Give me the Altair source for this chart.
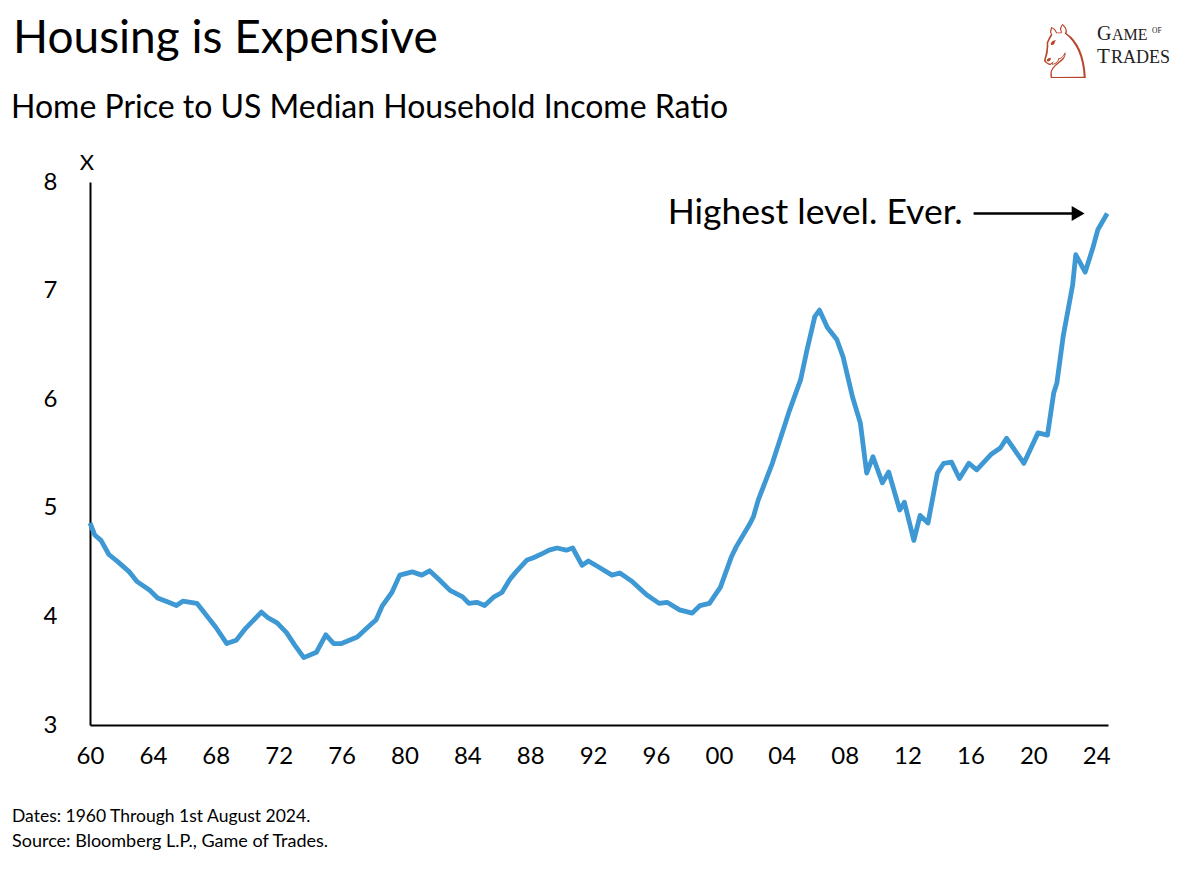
import altair as alt
import pandas as pd

years = [1960.0, 1960.3, 1960.7, 1961.2, 1961.8, 1962.5, 1963.0, 1963.8, 1964.3, 1965.0,
         1965.5, 1965.9, 1966.8, 1967.3, 1968.0, 1968.7, 1969.3, 1969.9, 1970.9, 1971.3,
         1971.9, 1972.5, 1973.0, 1973.6, 1974.4, 1975.0, 1975.5, 1976.0, 1977.0, 1977.6,
         1978.2, 1978.6, 1979.2, 1979.7, 1980.5, 1981.1, 1981.6, 1982.2, 1982.9, 1983.7,
         1984.1, 1984.6, 1985.1, 1985.7, 1986.2, 1986.7, 1987.1, 1987.8, 1988.2, 1988.8,
         1989.2, 1989.7, 1990.3, 1990.7, 1991.3, 1991.7, 1992.4, 1993.2, 1993.7, 1994.5,
         1995.4, 1996.2, 1996.7, 1997.5, 1998.3, 1998.8, 1999.4, 2000.1, 2000.8, 2001.1,
         2002.0, 2002.2, 2002.5, 2003.4, 2004.5, 2005.2, 2005.6, 2006.1, 2006.4, 2006.9,
         2007.5, 2007.9, 2008.5, 2009.0, 2009.4, 2009.8, 2010.4, 2010.8, 2011.5, 2011.8,
         2012.4, 2012.8, 2013.3, 2013.9, 2014.3, 2014.8, 2015.3, 2015.9, 2016.4, 2017.3,
         2017.9, 2018.3, 2019.4, 2020.3, 2020.9, 2021.3, 2021.5, 2021.9, 2022.5, 2022.7,
         2023.3, 2023.8, 2024.1, 2024.7]
ratios = [4.86, 4.75, 4.70, 4.57, 4.50, 4.41, 4.32, 4.24, 4.17, 4.13,
          4.10, 4.14, 4.12, 4.03, 3.90, 3.75, 3.78, 3.89, 4.04, 3.99,
          3.94, 3.85, 3.74, 3.62, 3.67, 3.83, 3.75, 3.75, 3.81, 3.89,
          3.97, 4.10, 4.22, 4.38, 4.41, 4.38, 4.42, 4.34, 4.24, 4.18,
          4.12, 4.13, 4.10, 4.18, 4.22, 4.34, 4.41, 4.52, 4.54, 4.58,
          4.61, 4.63, 4.61, 4.63, 4.47, 4.51, 4.45, 4.38, 4.40, 4.32,
          4.20, 4.12, 4.13, 4.06, 4.03, 4.10, 4.12, 4.27, 4.55, 4.64,
          4.86, 4.92, 5.07, 5.41, 5.90, 6.18, 6.45, 6.76, 6.82, 6.66,
          6.55, 6.39, 6.02, 5.78, 5.32, 5.47, 5.23, 5.33, 4.98, 5.05,
          4.70, 4.93, 4.86, 5.32, 5.41, 5.42, 5.27, 5.41, 5.35, 5.49,
          5.55, 5.64, 5.41, 5.69, 5.67, 6.06, 6.15, 6.58, 7.05, 7.33,
          7.17, 7.40, 7.56, 7.71]

x_ticks = [1960, 1964, 1968, 1972, 1976, 1980, 1984, 1988, 1992, 1996,
           2000, 2004, 2008, 2012, 2016, 2020, 2024]
y_ticks = [3, 4, 5, 6, 7, 8]

title_text = "Housing is Expensive"
subtitle_text = "Home Price to US Median Household Income Ratio"
unit_text = "X"
annot_text = "Highest level. Ever."
note1 = "Dates: 1960 Through 1st August 2024."
note2 = "Source: Bloomberg L.P., Game of Trades."

FONT = "Lato"
LINE_COLOR = "#3d98d3"

df = pd.DataFrame({"year": years, "ratio": ratios})

xscale = alt.Scale(domain=[1960, 2024.75], nice=False, zero=False)
yscale = alt.Scale(domain=[3, 8], nice=False, zero=False)

line = alt.Chart(df).mark_line(color=LINE_COLOR, strokeWidth=4.8, strokeJoin="round").encode(
    x=alt.X("year:Q", scale=xscale,
            axis=alt.Axis(values=x_ticks, labelExpr="slice(toString(datum.value), 2)",
                          title=None, ticks=False, grid=False, domainColor="black",
                          domainWidth=2, labelFont=FONT, labelFontSize=24,
                          labelColor="black", labelPadding=19, labelFlush=False,
                          labelOverlap=False)),
    y=alt.Y("ratio:Q", scale=yscale,
            axis=alt.Axis(values=y_ticks, format="d", title=None, ticks=False, grid=False,
                          domainColor="black", domainWidth=2, labelFont=FONT,
                          labelFontSize=24, labelColor="black", labelPadding=33,
                          labelFlush=False, labelOverlap=False)),
)

# annotation arrow in data coordinates
arrow_df = pd.DataFrame({"x": [2016.2], "x2": [2022.6], "y": [7.71]})
arrow_line = alt.Chart(arrow_df).mark_rule(color="black", strokeWidth=2.5).encode(
    x=alt.X("x:Q", scale=xscale), x2="x2:Q", y=alt.Y("y:Q", scale=yscale))
head_df = pd.DataFrame({"x": [2022.85], "y": [7.71]})
arrow_head = alt.Chart(head_df).mark_point(shape="triangle-right", filled=True, color="black",
                                           size=220, opacity=1).encode(
    x=alt.X("x:Q", scale=xscale), y=alt.Y("y:Q", scale=yscale))
annot_df = pd.DataFrame({"x": [2015.5], "y": [7.71], "t": [annot_text]})
annot = alt.Chart(annot_df).mark_text(align="right", baseline="middle", font=FONT,
                                      fontSize=35.5, color="black").encode(
    x=alt.X("x:Q", scale=xscale), y=alt.Y("y:Q", scale=yscale), text="t:N")

one = pd.DataFrame({"a": [0]})

def label(text, x, y, size, weight="normal", color="black", font=FONT, align="left",
          baseline="alphabetic"):
    return alt.Chart(one).mark_text(text=text, align=align, baseline=baseline, font=font,
                                    fontSize=size, fontWeight=weight, color=color).encode(
        x=alt.value(x), y=alt.value(y))

SERIF = "Liberation Serif"
LOGO = "#222222"
texts = [
    label(title_text, -77, -129, 46),
    label(subtitle_text, -79, -64, 32),
    label(unit_text, -3, -12, 22, align="center"),
    label(note1, -78, 640, 17.5),
    label(note2, -78, 665, 18),
    # logo
    label("\u2658", 975, -104, 74, color="#b8442c", font="DejaVu Sans", align="center"),
    label("G", 1007, -142, 20, font=SERIF, color=LOGO),
    label("AME", 1022, -142, 16, font=SERIF, color=LOGO),
    label("OF", 1062, -149, 7.5, font=SERIF, color=LOGO),
    label("T", 1007, -119, 21, font=SERIF, color=LOGO),
    label("RADES", 1021, -119, 18, font=SERIF, color=LOGO),
]

chart = alt.layer(line, arrow_line, arrow_head, annot, *texts).properties(
    width=1018, height=543,
    padding={"left": 82, "top": 174, "right": 76, "bottom": 130},
    autosize=alt.AutoSizeParams(type="none"),
    background="white",
).configure_view(stroke=None)

chart.save("out.html", embed_options={"renderer": "svg", "actions": False})
